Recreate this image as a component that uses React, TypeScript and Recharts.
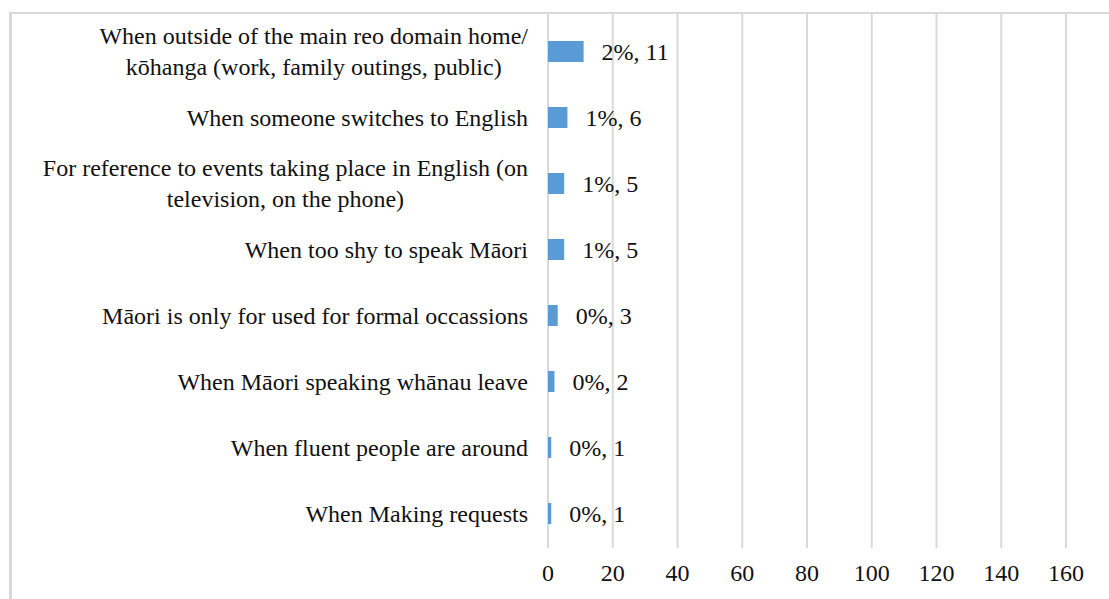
import React from "react";
import { BarChart, Bar, XAxis, YAxis, CartesianGrid, LabelList } from "recharts";

const categories = [
  "When outside of the main reo domain home/\nkōhanga (work, family outings, public)",
  "When someone switches to English",
  "For reference to events taking place in English (on\ntelevision, on the phone)",
  "When too shy to speak Māori",
  "Māori is only for used for formal occassions",
  "When Māori speaking whānau leave",
  "When fluent people are around",
  "When Making requests",
];
const counts = [11, 6, 5, 5, 3, 2, 1, 1];
const percents = ["2%", "1%", "1%", "1%", "0%", "0%", "0%", "0%"];
const xTicks = [0, 20, 40, 60, 80, 100, 120, 140, 160];

const FONT = "'Liberation Serif', 'Times New Roman', serif";
const FONT_SIZE = 24;
const TEXT = "#111111";
const GRID = "#d9d9d9";

const data = categories.map((c, i) => ({ category: c, count: counts[i], pct: percents[i] }));

let ctx: CanvasRenderingContext2D | null = null;
function textWidth(s: string): number {
  if (!ctx) ctx = document.createElement("canvas").getContext("2d");
  if (!ctx) return s.length * 11;
  ctx.font = `${FONT_SIZE}px 'Liberation Serif'`;
  return ctx.measureText(s).width;
}

function CategoryTick(props: any) {
  const { x, y, payload } = props;
  const lines = String(payload.value).split("\n");
  if (lines.length === 1) {
    return (
      <text x={x} y={y + 8.5} textAnchor="end" fontFamily={FONT} fontSize={FONT_SIZE} fill={TEXT}>
        {lines[0]}
      </text>
    );
  }
  // multi-line labels are centred on each other, block right-aligned
  const maxW = Math.max(...lines.map(textWidth));
  const cx = x - maxW / 2;
  return (
    <text textAnchor="middle" fontFamily={FONT} fontSize={FONT_SIZE} fill={TEXT}>
      {lines.map((l, i) => (
        <tspan key={i} x={cx} y={y - 7 + i * 31}>
          {l}
        </tspan>
      ))}
    </text>
  );
}

function ValueLabel(props: any) {
  const { x, y, width, height, value, index } = props;
  return (
    <text
      x={x + width + 18}
      y={y + height / 2 + 8.5}
      fontFamily={FONT}
      fontSize={FONT_SIZE}
      fill={TEXT}
    >
      {`${percents[index]}, ${value}`}
    </text>
  );
}

export default function App() {
  return (
    <div
      style={{
        position: "absolute",
        left: 0,
        top: 0,
        width: 1109,
        height: 599,
        overflow: "hidden",
        background: "#fff",
      }}
    >
      <div
        style={{
          position: "absolute",
          left: 9,
          top: 12,
          width: 1300,
          height: 800,
          borderLeft: `3px solid ${GRID}`,
          borderTop: `2px solid ${GRID}`,
        }}
      />
      <div style={{ position: "absolute", left: 0, top: 0 }}>
        <BarChart
          width={1109}
          height={599}
          data={data}
          layout="vertical"
          margin={{ top: 18, right: 43, bottom: 0, left: 0 }}
        >
          <CartesianGrid horizontal={false} stroke={GRID} strokeWidth={2} y={14} height={534} />
          <XAxis
            type="number"
            domain={[0, 160]}
            ticks={xTicks}
            height={53}
            axisLine={false}
            tickLine={false}
            tickMargin={12}
            tick={{ fontFamily: FONT, fontSize: FONT_SIZE, fill: TEXT }}
          />
          <YAxis
            type="category"
            dataKey="category"
            width={548}
            axisLine={false}
            tickLine={false}
            tickMargin={14}
            interval={0}
            tick={<CategoryTick />}
          />
          <Bar dataKey="count" fill="#5b9bd5" barSize={21} isAnimationActive={false}>
            <LabelList dataKey="count" content={<ValueLabel />} />
          </Bar>
        </BarChart>
      </div>
    </div>
  );
}
